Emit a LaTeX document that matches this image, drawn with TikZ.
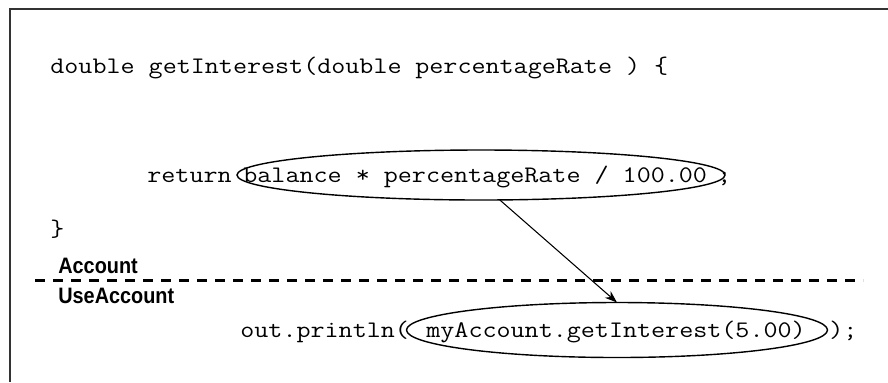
\documentclass[tikz,border=0pt]{standalone}
\usepackage{fontspec}
\setmonofont[FakeStretch=1.15]{Latin Modern Mono}
\newfontfamily\tagfont[FakeStretch=0.89]{Liberation Sans}
\usetikzlibrary{arrows.meta, shapes.geometric}

\begin{document}
\begin{tikzpicture}[
        codeline/.style={anchor=base west, inner sep=0pt, font=\fontsize{13.5pt}{16pt}\selectfont\ttfamily},
        classtag/.style={anchor=base west, inner sep=0pt, font=\fontsize{12.7pt}{15pt}\selectfont\tagfont\bfseries},
        ring/.style={ellipse, draw, line width=0.8pt, inner sep=0pt, outer sep=0pt}]
                \useasboundingbox (0,0) rectangle (17.76,-7.64);
                % frame (top and left only)
                \draw[line width=1.1pt, black!80] (17.76,-0.18) -- (0.2,-0.18) -- (0.2,-7.64);

                % class Account
                \node[codeline] (head) at (1.0,-1.46) {double getInterest(double};
                \node[codeline] (headend) at (8.3,-1.46) {percentageRate ) \{};
                \node[codeline] (ret) at (2.94,-3.64) {return};
                \node[codeline] (exprtxt) at (4.86,-3.64) {balance * percentageRate / 100.00};
                \node[codeline] (semi) at (14.34,-3.64) {;};
                \node[codeline] (close) at (1.0,-4.72) {\}};
                \node[ring, minimum width=9.76cm, minimum height=1.0cm] (expr) at (9.62,-3.5) {};

                % divider
                \coordinate (divL) at (0.7,-5.6);
                \coordinate (divR) at (17.26,-5.6);
                \draw[line width=1.7pt, dash pattern=on 0.2cm off 0.16cm] (divL) -- (divR);
                \node[classtag] (acc) at (1.16,-5.46) {Account};
                \node[classtag] (use) at (1.16,-6.06) {UseAccount};

                % class UseAccount
                \node[codeline] (call) at (4.8,-6.74) {out.println(};
                \node[codeline] (calltxt) at (8.52,-6.74) {myAccount.getInterest(5.00)};
                \node[codeline] (callend) at (16.58,-6.74) {);};
                \node[ring, minimum width=8.42cm, minimum height=1.1cm] (invoke) at (12.34,-6.6) {};

                \draw[line width=0.6pt, -{Stealth[length=7pt, width=5pt]}] (expr.-53) -- (invoke.north);
            \end{tikzpicture}
\end{document}
